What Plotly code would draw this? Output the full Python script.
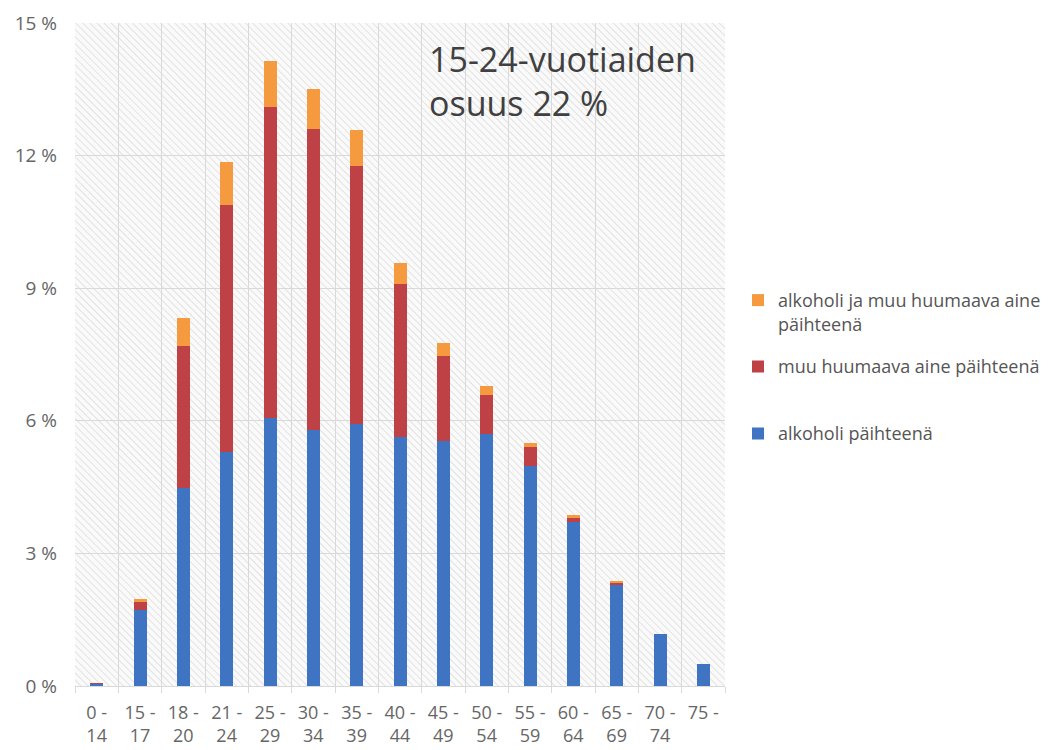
import base64
import plotly.graph_objects as go

categories = ["0 -<br>14", "15 -<br>17", "18 -<br>20", "21 -<br>24", "25 -<br>29",
              "30 -<br>34", "35 -<br>39", "40 -<br>44", "45 -<br>49", "50 -<br>54",
              "55 -<br>59", "60 -<br>64", "65 -<br>69", "70 -<br>74", "75 -"]

alkoholi = [0.05, 1.72, 4.49, 5.30, 6.07, 5.79, 5.93, 5.64, 5.54, 5.71, 4.98, 3.70, 2.28, 1.18, 0.49]
muu_aine = [0.01, 0.20, 3.20, 5.58, 7.03, 6.81, 5.83, 3.45, 1.93, 0.87, 0.43, 0.11, 0.06, 0.0, 0.0]
alkoholi_ja_muu = [0.0, 0.04, 0.64, 0.98, 1.04, 0.90, 0.81, 0.49, 0.30, 0.21, 0.09, 0.06, 0.03, 0.0, 0.0]

y_tickvals = [0, 3, 6, 9, 12, 15]
y_ticktext = ["0 %", "3 %", "6 %", "9 %", "12 %", "15 %"]

name_alk = "alkoholi päihteenä"
name_muu = "muu huumaava aine päihteenä"
name_both = "alkoholi ja muu huumaava aine<br>päihteenä"
annotation_text = "15-24-vuotiaiden<br>osuus 22 %"

BLUE = "#3f74c2"
RED = "#be4146"
ORANGE = "#f59a3e"
FONT = "Open Sans"

fig = go.Figure()
fig.add_trace(go.Bar(x=categories, y=alkoholi, name=name_alk, marker_color=BLUE,
                     marker_line_width=0, legend="legend3"))
fig.add_trace(go.Bar(x=categories, y=muu_aine, name=name_muu, marker_color=RED,
                     marker_line_width=0, legend="legend2"))
fig.add_trace(go.Bar(x=categories, y=alkoholi_ja_muu, name=name_both, marker_color=ORANGE,
                     marker_line_width=0, legend="legend", showlegend=True))

svg = ("<svg xmlns='http://www.w3.org/2000/svg' width='650' height='663'>"
       "<defs><pattern id='p' width='5' height='5' patternUnits='userSpaceOnUse' "
       "patternTransform='rotate(-45)'>"
       "<line x1='0' y1='0' x2='0' y2='5' stroke='#dcdcdc' stroke-width='1.6'/></pattern></defs>"
       "<rect width='100%' height='100%' fill='#fafafa'/>"
       "<rect width='100%' height='100%' fill='url(#p)'/></svg>")
src = "data:image/svg+xml;base64," + base64.b64encode(svg.encode()).decode()

legend_common = dict(x=730 / 1058, xref="container", yref="container",
                     xanchor="left", yanchor="top", valign="top",
                     bgcolor="rgba(0,0,0,0)", borderwidth=0,
                     font=dict(family=FONT, size=18, color="#555555"))

fig.update_layout(
    width=1058, height=750,
    margin=dict(l=67, r=341, t=15, b=72),
    paper_bgcolor="white",
    plot_bgcolor="white",
    showlegend=True,
    barmode="stack",
    bargap=0.7,
    font=dict(family=FONT, color="#595959"),
    images=[dict(source=src, xref="paper", yref="paper", x=0, y=1, sizex=1, sizey=1,
                 sizing="stretch", layer="below", xanchor="left", yanchor="top")],
    xaxis=dict(type="category", tickson="boundaries", ticks="outside", ticklen=6,
               tickcolor="#d9d9d9", showgrid=True, gridcolor="#d9d9d9", gridwidth=1,
               showline=True, linecolor="#d9d9d9", linewidth=1, ticklabelstandoff=10,
               automargin=False,
               tickfont=dict(family=FONT, size=18, color="#666666"), tickangle=0),
    yaxis=dict(range=[0, 15], tickvals=y_tickvals, ticktext=y_ticktext,
               showgrid=True, gridcolor="#d9d9d9", gridwidth=1, zeroline=False,
               showline=False, ticks="", ticklabelstandoff=17, automargin=False,
               tickfont=dict(family=FONT, size=19, color="#666666")),
    legend=dict(y=0.6348, **legend_common),
    legend2=dict(y=0.5464, **legend_common),
    legend3=dict(y=0.4570, **legend_common),
    annotations=[
        dict(text=annotation_text, xref="paper", yref="paper", x=0.541, y=0.9125,
             xanchor="left", yanchor="middle", align="left", showarrow=False,
             font=dict(family=FONT, size=34, color="#404040")),
    ],
)

fig.write_html("out.html")
